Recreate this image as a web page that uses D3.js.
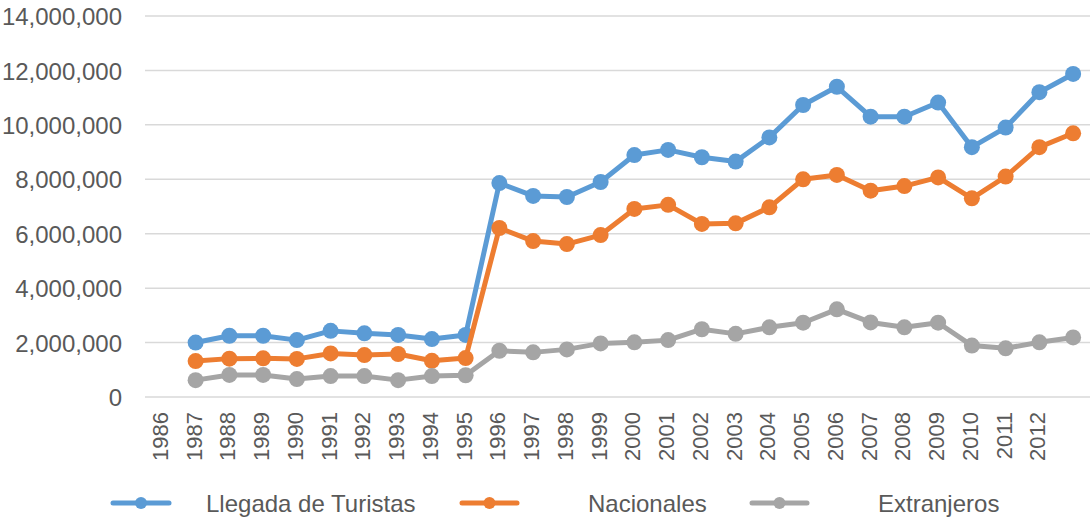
<!DOCTYPE html>
<html>
<head>
<meta charset="utf-8">
<script src="https://cdn.jsdelivr.net/npm/d3@7"></script>
<style>
  body { margin: 0; background: #fff; }
  text { font-family: "Liberation Sans", Arial, sans-serif; fill: #595959; }
</style>
</head>
<body>
<div id="chart"></div>
<script>
// category labels (the last slot carries a point but no label, as in the original)
var years = ["1986", "1987", "1988", "1989", "1990", "1991", "1992", "1993", "1994", "1995",
  "1996", "1997", "1998", "1999", "2000", "2001", "2002", "2003", "2004", "2005",
  "2006", "2007", "2008", "2009", "2010", "2011", "2012", ""];

// values in millions, first slot empty
var llegada = [null, 2.00, 2.25, 2.25, 2.09, 2.43, 2.34, 2.28, 2.13, 2.28, 7.86, 7.39, 7.35, 7.90,
  8.89, 9.08, 8.81, 8.65, 9.54, 10.73, 11.40, 10.30, 10.30, 10.82, 9.18, 9.90, 11.20, 11.87];
var nacionales = [null, 1.32, 1.41, 1.42, 1.40, 1.60, 1.54, 1.58, 1.33, 1.43, 6.21, 5.73, 5.62, 5.95,
  6.91, 7.06, 6.36, 6.38, 6.97, 8.00, 8.16, 7.58, 7.75, 8.07, 7.30, 8.10, 9.18, 9.69];
var extranjeros = [null, 0.62, 0.81, 0.81, 0.66, 0.77, 0.77, 0.62, 0.77, 0.80, 1.70, 1.64, 1.75, 1.97,
  2.01, 2.09, 2.49, 2.32, 2.56, 2.73, 3.22, 2.74, 2.56, 2.73, 1.89, 1.79, 2.01, 2.19];

var yTicks = [0, 2000000, 4000000, 6000000, 8000000, 10000000, 12000000, 14000000];

var series = [
  {name: "Llegada de Turistas", values: llegada, color: "#5b9bd5"},
  {name: "Nacionales", values: nacionales, color: "#ed7d31"},
  {name: "Extranjeros", values: extranjeros, color: "#a5a5a5"}
];

var width = 1091, height = 518;
var svg = d3.select("#chart").append("svg")
  .attr("width", width)
  .attr("height", height);

var x = d3.scaleBand()
  .domain(d3.range(years.length))
  .range([145, 1090]);

var y = d3.scaleLinear()
  .domain([0, 14000000])
  .range([397, 16]);

// gridlines
svg.append("g")
  .selectAll("line")
  .data(yTicks)
  .enter()
  .append("line")
  .attr("x1", 145)
  .attr("x2", 1090)
  .attr("y1", function(d) { return y(d); })
  .attr("y2", function(d) { return y(d); })
  .attr("stroke", "#d9d9d9")
  .attr("stroke-width", 1.5);

// y axis labels
var yAxis = svg.append("g")
  .attr("transform", "translate(122,0)")
  .call(d3.axisLeft(y).tickValues(yTicks).tickSize(0).tickPadding(0).tickFormat(d3.format(",")));
yAxis.select(".domain").remove();
yAxis.selectAll("text")
  .style("font-size", "24px")
  .attr("fill", "#595959")
  .attr("dy", "0.36em");

// x axis labels, rotated
var xAxis = svg.append("g")
  .attr("transform", "translate(0,397)")
  .call(d3.axisBottom(x).tickSize(0).tickFormat(function(i) { return years[i]; }));
xAxis.select(".domain").remove();
xAxis.selectAll("text")
  .style("font-size", "22px")
  .attr("fill", "#595959")
  .attr("text-anchor", "end")
  .attr("transform", "rotate(-90)")
  .attr("x", -15)
  .attr("y", -2)
  .attr("dy", "0.36em");

var line = d3.line()
  .defined(function(d) { return d != null; })
  .x(function(d, i) { return x(i) + x.bandwidth() / 2; })
  .y(function(d) { return y(d * 1e6); });

series.forEach(function(s) {
  var g = svg.append("g");
  g.append("path")
    .datum(s.values)
    .attr("fill", "none")
    .attr("stroke", s.color)
    .attr("stroke-width", 5)
    .attr("stroke-linejoin", "round")
    .attr("d", line);
  g.selectAll("circle")
    .data(s.values.map(function(v, i) { return {v: v, i: i}; }).filter(function(d) { return d.v != null; }))
    .enter()
    .append("circle")
    .attr("cx", function(d) { return x(d.i) + x.bandwidth() / 2; })
    .attr("cy", function(d) { return y(d.v * 1e6); })
    .attr("r", 8)
    .attr("fill", s.color);
});

// legend
var legendPos = [
  {x1: 113, x2: 169, tx: 206},
  {x1: 462, x2: 517, tx: 588},
  {x1: 752, x2: 807, tx: 878}
];
series.forEach(function(s, i) {
  var p = legendPos[i];
  var g = svg.append("g").attr("transform", "translate(0,503)");
  g.append("line")
    .attr("x1", p.x1).attr("x2", p.x2)
    .attr("y1", 0).attr("y2", 0)
    .attr("stroke", s.color)
    .attr("stroke-width", 5)
    .attr("stroke-linecap", "round");
  g.append("circle")
    .attr("cx", (p.x1 + p.x2) / 2)
    .attr("cy", 0)
    .attr("r", 6)
    .attr("fill", s.color);
  g.append("text")
    .attr("x", p.tx)
    .attr("y", 0)
    .attr("dy", "0.36em")
    .style("font-size", "24px")
    .text(s.name);
});
</script>
</body>
</html>
